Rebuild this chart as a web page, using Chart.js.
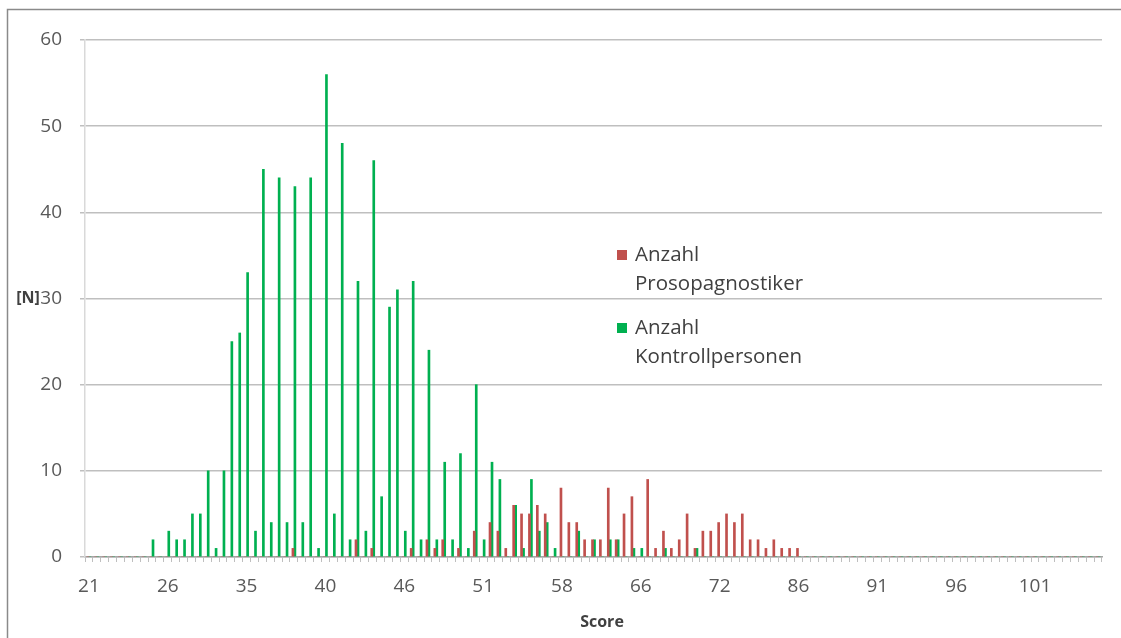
<!DOCTYPE html>
<html>
<head>
<meta charset="utf-8">
<script src="https://cdn.jsdelivr.net/npm/chart.js@4.4.1/dist/chart.umd.min.js"></script>
<style>
  html, body { margin: 0; padding: 0; background: #fff; }
  #wrap { width: 1121px; height: 638px; position: relative; }
</style>
</head>
<body>
<div id="wrap"><canvas id="graph"></canvas></div>
<script>
// x labels shown under every 10th category
const tickLabels = ['21', '26', '35', '40', '46', '51', '58', '66', '72', '86', '91', '96', '101'];
const categoryCount = 129;
const categories = [];
for (let i = 0; i < categoryCount; i++) {
    categories.push(i % 10 === 0 ? tickLabels[i / 10] : '');
}

const seriesNames = ['Anzahl Prosopagnostiker', 'Anzahl Kontrollpersonen'];
const seriesColors = ['#C0504D', '#00B050'];

const prosopagnostiker = [
    0, 0, 0, 0, 0, 0, 0, 0, 0, 0,
    0, 0, 0, 0, 0, 0, 0, 0, 0, 0,
    0, 0, 0, 0, 0, 0, 1, 0, 0, 0,
    0, 0, 0, 0, 2, 0, 1, 0, 0, 0,
    0, 1, 0, 2, 1, 2, 0, 1, 0, 3,
    0, 4, 3, 1, 6, 5, 5, 6, 5, 0,
    8, 4, 4, 2, 2, 2, 8, 2, 5, 7,
    0, 9, 1, 3, 1, 2, 5, 1, 3, 3,
    4, 5, 4, 5, 2, 2, 1, 2, 1, 1,
    1, 0, 0, 0, 0, 0, 0, 0, 0, 0,
    0, 0, 0, 0, 0, 0, 0, 0, 0, 0,
    0, 0, 0, 0, 0, 0, 0, 0, 0, 0,
    0, 0, 0, 0, 0, 0, 0, 0, 0
];

const kontrollpersonen = [
    0, 0, 0, 0, 0, 0, 0, 0, 2, 0,
    3, 2, 2, 5, 5, 10, 1, 10, 25, 26,
    33, 3, 45, 4, 44, 4, 43, 4, 44, 1,
    56, 5, 48, 2, 32, 3, 46, 7, 29, 31,
    3, 32, 2, 24, 2, 11, 2, 12, 1, 20,
    2, 11, 9, 0, 6, 1, 9, 3, 4, 1,
    0, 0, 3, 0, 2, 0, 2, 2, 0, 1,
    1, 0, 0, 1, 0, 0, 0, 1, 0, 0,
    0, 0, 0, 0, 0, 0, 0, 0, 0, 0,
    0, 0, 0, 0, 0, 0, 0, 0, 0, 0,
    0, 0, 0, 0, 0, 0, 0, 0, 0, 0,
    0, 0, 0, 0, 0, 0, 0, 0, 0, 0,
    0, 0, 0, 0, 0, 0, 0, 0, 0
];

const yTicks = [0, 10, 20, 30, 40, 50, 60];

const fontName = '"Open Sans", sans-serif';

// frame, axis titles and the legend (Excel style, legend inside plot)
const excelBits = {
    id: 'excelBits',
    beforeDraw(chart) {
        const ctx = chart.ctx;
        ctx.save();
        ctx.strokeStyle = '#8a8a8a';
        ctx.lineWidth = 1.5;
        ctx.strokeRect(7.5, 9.5, 1200, 700);
        ctx.restore();
    },
    afterDraw(chart) {
        const ctx = chart.ctx;
        ctx.save();
        ctx.fillStyle = '#404040';
        ctx.font = 'bold 16px ' + fontName;
        ctx.textAlign = 'center';
        ctx.textBaseline = 'middle';
        ctx.fillText('[N]', 28, 298);
        ctx.fillText('Score', 602, 622);

        const rows = [[255, 284], [328, 357]];
        ctx.font = '20.5px ' + fontName;
        ctx.textAlign = 'left';
        chart.data.datasets.forEach(function(ds, i) {
            const words = ds.label.split(' ');
            ctx.fillStyle = ds.backgroundColor;
            ctx.fillRect(617, rows[i][0] - 5, 10, 10);
            ctx.fillStyle = '#404040';
            ctx.fillText(words[0], 635, rows[i][0]);
            ctx.fillText(words.slice(1).join(' '), 635, rows[i][1]);
        });
        ctx.restore();
    }
};

const ctx = document.getElementById('graph');
new Chart(ctx, {
    type: 'bar',
    data: {
        labels: categories,
        datasets: [{
            label: seriesNames[0],
            data: prosopagnostiker,
            backgroundColor: seriesColors[0],
            barThickness: 2
        }, {
            label: seriesNames[1],
            data: kontrollpersonen,
            backgroundColor: seriesColors[1],
            barThickness: 2
        }]
    },
    options: {
        responsive: true,
        maintainAspectRatio: false,
        animation: false,
        layout: {
            padding: { top: 40, right: 19, left: 0, bottom: 0 }
        },
        plugins: {
            legend: { display: false },
            tooltip: { enabled: false }
        },
        scales: {
            x: {
                grid: {
                    display: true,
                    drawOnChartArea: false,
                    drawTicks: true,
                    tickLength: 5,
                    color: '#bfbfbf',
                    offset: true
                },
                border: { color: '#a6a6a6', width: 1.5 },
                ticks: {
                    autoSkip: false,
                    maxRotation: 0,
                    padding: 13,
                    color: '#595959',
                    font: { family: fontName, size: 19 },
                    callback: function(value, index) {
                        return categories[index];
                    }
                },
                afterFit: function(scale) {
                    scale.height = 81;
                }
            },
            y: {
                min: 0,
                max: 60,
                afterBuildTicks: function(scale) {
                    scale.ticks = yTicks.map(v => ({ value: v }));
                },
                grid: {
                    color: '#bfbfbf',
                    lineWidth: 1.5,
                    tickLength: 5
                },
                border: { color: '#d9d9d9', width: 1.5 },
                ticks: {
                    padding: 18,
                    color: '#595959',
                    font: { family: fontName, size: 19 }
                },
                afterFit: function(scale) {
                    scale.width = 85;
                }
            }
        }
    },
    plugins: [excelBits]
});
</script>
</body>
</html>
